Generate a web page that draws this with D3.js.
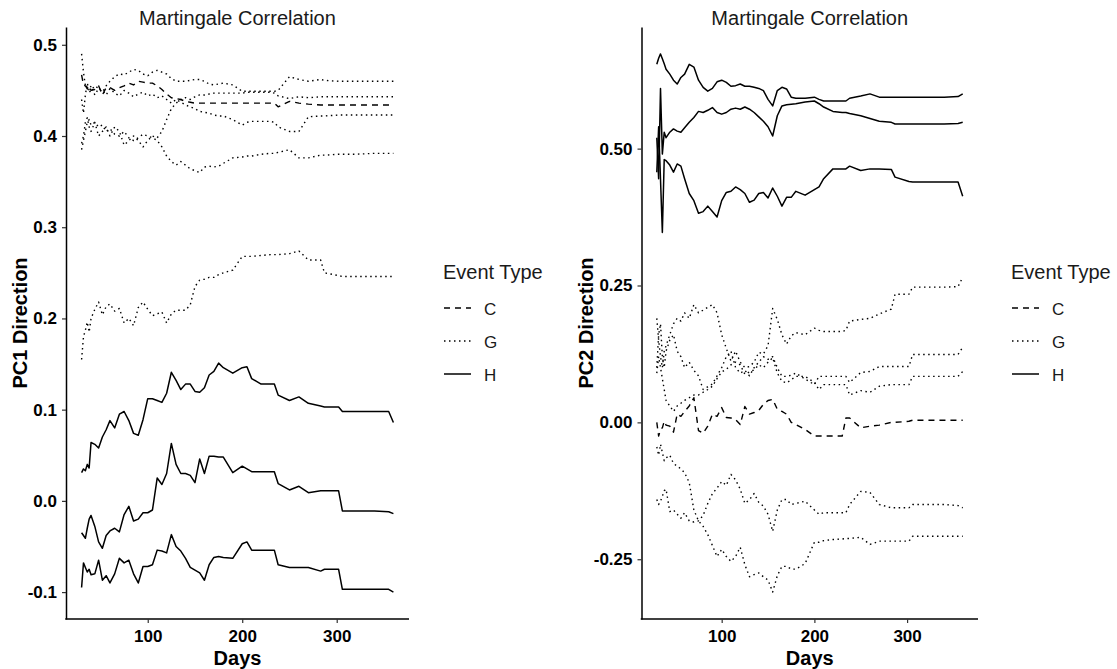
<!DOCTYPE html>
<html>
<head>
<meta charset="utf-8">
<script src="https://cdn.jsdelivr.net/npm/d3@7"></script>
<style>
    body { margin: 0; background: #fff; }
    svg { display: block; font-family: "Liberation Sans", Arial, sans-serif; }
</style>
</head>
<body>
<svg id="chart" width="1117" height="669"></svg>
<script>
// day grid shared by every series
const days = [30, 32, 34, 36, 38, 40, 44, 48, 52, 56,
    60, 65, 70, 75, 80, 85, 90, 95, 100, 105,
    110, 115, 120, 125, 130, 135, 140, 145, 150, 155,
    160, 165, 170, 175, 180, 190, 200, 205, 210, 220,
    230, 234, 238, 250, 260, 270, 283, 287, 302, 306,
    320, 340, 355, 360];

const eventTypes = ['C', 'G', 'H'];
const dayTicks = [100, 200, 300];
const pc1Ticks = [-0.1, 0, 0.1, 0.2, 0.3, 0.4, 0.5];
const pc2Ticks = [-0.25, 0, 0.25, 0.5];

// PC1
const pc1_C = [0.467, 0.456, 0.455, 0.452, 0.455, 0.450, 0.451, 0.455, 0.445, 0.453,
    0.453, 0.450, 0.453, 0.455, 0.458, 0.456, 0.460, 0.459, 0.458, 0.458,
    0.455, 0.451, 0.446, 0.442, 0.441, 0.440, 0.438, 0.437, 0.436, 0.436,
    0.436, 0.436, 0.436, 0.436, 0.436, 0.436, 0.436, 0.436, 0.436, 0.436,
    0.436, 0.436, 0.432, 0.438, 0.436, 0.435, 0.434, 0.434, 0.434, 0.434,
    0.434, 0.434, 0.434, 0.434];
const pc1_G1 = [0.490, 0.470, 0.455, 0.452, 0.448, 0.450, 0.455, 0.452, 0.448, 0.455,
    0.460, 0.465, 0.468, 0.467, 0.470, 0.473, 0.472, 0.468, 0.466, 0.470,
    0.472, 0.470, 0.468, 0.463, 0.460, 0.460, 0.460, 0.461, 0.462, 0.462,
    0.460, 0.457, 0.456, 0.457, 0.458, 0.456, 0.449, 0.449, 0.449, 0.449,
    0.449, 0.449, 0.450, 0.465, 0.462, 0.460, 0.462, 0.461, 0.460, 0.460,
    0.460, 0.460, 0.460, 0.460];
const pc1_G2 = [0.392, 0.400, 0.415, 0.420, 0.410, 0.405, 0.415, 0.400, 0.405, 0.410,
    0.400, 0.410, 0.405, 0.390, 0.395, 0.400, 0.395, 0.388, 0.395, 0.400,
    0.398, 0.405, 0.418, 0.430, 0.436, 0.440, 0.442, 0.440, 0.443, 0.445,
    0.445, 0.446, 0.447, 0.447, 0.447, 0.447, 0.447, 0.448, 0.448, 0.448,
    0.448, 0.447, 0.444, 0.441, 0.443, 0.442, 0.443, 0.443, 0.443, 0.443,
    0.443, 0.443, 0.443, 0.443];
const pc1_G3 = [0.440, 0.425, 0.445, 0.458, 0.450, 0.455, 0.445, 0.452, 0.450, 0.445,
    0.452, 0.447, 0.444, 0.450, 0.447, 0.443, 0.446, 0.448, 0.444, 0.446,
    0.442, 0.444, 0.440, 0.436, 0.440, 0.437, 0.434, 0.432, 0.430, 0.427,
    0.426, 0.425, 0.423, 0.422, 0.422, 0.418, 0.412, 0.415, 0.416, 0.416,
    0.416, 0.415, 0.410, 0.405, 0.405, 0.421, 0.422, 0.422, 0.423, 0.423,
    0.423, 0.423, 0.423, 0.423];
const pc1_G4 = [0.385, 0.395, 0.405, 0.415, 0.418, 0.412, 0.415, 0.410, 0.412, 0.405,
    0.408, 0.402, 0.400, 0.405, 0.398, 0.395, 0.398, 0.402, 0.400, 0.398,
    0.395, 0.388, 0.378, 0.372, 0.368, 0.372, 0.368, 0.364, 0.362, 0.360,
    0.366, 0.367, 0.366, 0.367, 0.370, 0.376, 0.377, 0.378, 0.378, 0.380,
    0.381, 0.381, 0.382, 0.385, 0.376, 0.376, 0.379, 0.379, 0.380, 0.380,
    0.380, 0.381, 0.381, 0.381];
const pc1_G5 = [0.155, 0.180, 0.187, 0.196, 0.185, 0.200, 0.210, 0.218, 0.204, 0.213,
    0.216, 0.208, 0.211, 0.195, 0.200, 0.192, 0.212, 0.218, 0.210, 0.203,
    0.205, 0.207, 0.195, 0.205, 0.209, 0.209, 0.209, 0.215, 0.235, 0.242,
    0.243, 0.245, 0.245, 0.248, 0.250, 0.253, 0.268, 0.268, 0.268, 0.269,
    0.270, 0.270, 0.270, 0.271, 0.274, 0.264, 0.264, 0.250, 0.247, 0.246,
    0.246, 0.246, 0.246, 0.246];
const pc1_H1 = [0.031, 0.035, 0.033, 0.040, 0.036, 0.064, 0.062, 0.058, 0.070, 0.078,
    0.088, 0.080, 0.095, 0.098, 0.088, 0.074, 0.072, 0.089, 0.112, 0.112,
    0.110, 0.108, 0.118, 0.141, 0.132, 0.122, 0.128, 0.128, 0.120, 0.119,
    0.124, 0.138, 0.142, 0.151, 0.146, 0.140, 0.146, 0.147, 0.134, 0.128,
    0.128, 0.128, 0.116, 0.110, 0.114, 0.107, 0.104, 0.103, 0.103, 0.098,
    0.098, 0.098, 0.098, 0.086];
const pc1_H2 = [-0.035, -0.038, -0.041, -0.030, -0.020, -0.016, -0.028, -0.045, -0.052, -0.038,
    -0.033, -0.030, -0.034, -0.015, -0.006, -0.022, -0.020, -0.013, -0.013, -0.010,
    0.025, 0.018, 0.030, 0.063, 0.040, 0.030, 0.030, 0.028, 0.020, 0.046,
    0.030, 0.049, 0.049, 0.048, 0.048, 0.031, 0.038, 0.035, 0.032, 0.032,
    0.032, 0.032, 0.019, 0.012, 0.016, 0.009, 0.011, 0.011, 0.011, -0.011,
    -0.011, -0.011, -0.012, -0.014];
const pc1_H3 = [-0.095, -0.068, -0.073, -0.078, -0.075, -0.081, -0.080, -0.065, -0.087, -0.082,
    -0.090, -0.080, -0.063, -0.068, -0.065, -0.080, -0.090, -0.072, -0.072, -0.070,
    -0.054, -0.055, -0.057, -0.037, -0.050, -0.055, -0.063, -0.073, -0.076, -0.079,
    -0.087, -0.070, -0.062, -0.061, -0.062, -0.063, -0.047, -0.045, -0.054, -0.054,
    -0.054, -0.054, -0.070, -0.073, -0.073, -0.073, -0.077, -0.075, -0.075, -0.097,
    -0.097, -0.097, -0.097, -0.100];

// PC2
const pc2_C = [0.000, -0.025, -0.013, -0.010, 0.002, -0.005, -0.007, -0.018, 0.015, 0.011,
    0.020, 0.030, 0.045, -0.015, -0.020, -0.007, 0.015, 0.011, 0.027, 0.009,
    0.008, 0.005, -0.004, 0.029, 0.015, 0.018, 0.022, 0.033, 0.040, 0.042,
    0.024, 0.020, 0.015, 0.000, -0.004, -0.013, -0.025, -0.025, -0.025, -0.025,
    -0.025, 0.008, 0.008, -0.010, -0.007, -0.005, 0.000, 0.000, 0.002, 0.004,
    0.004, 0.004, 0.004, 0.004];
const pc2_G1 = [0.190, 0.150, 0.120, 0.100, 0.130, 0.140, 0.160, 0.180, 0.190, 0.185,
    0.200, 0.190, 0.215, 0.200, 0.205, 0.210, 0.215, 0.200, 0.160, 0.135,
    0.112, 0.130, 0.110, 0.100, 0.102, 0.110, 0.128, 0.125, 0.140, 0.208,
    0.188, 0.160, 0.143, 0.158, 0.164, 0.160, 0.172, 0.168, 0.166, 0.166,
    0.166, 0.168, 0.185, 0.188, 0.190, 0.198, 0.207, 0.234, 0.234, 0.247,
    0.247, 0.247, 0.248, 0.265];
const pc2_G2 = [0.100, 0.160, 0.180, 0.120, 0.100, 0.130, 0.150, 0.160, 0.130, 0.120,
    0.100, 0.110, 0.095, 0.085, 0.060, 0.065, 0.070, 0.085, 0.100, 0.120,
    0.130, 0.100, 0.090, 0.095, 0.085, 0.100, 0.110, 0.120, 0.115, 0.120,
    0.100, 0.084, 0.084, 0.086, 0.090, 0.079, 0.069, 0.084, 0.084, 0.084,
    0.084, 0.084, 0.073, 0.091, 0.093, 0.102, 0.102, 0.102, 0.102, 0.124,
    0.124, 0.124, 0.124, 0.137];
const pc2_G3 = [0.090, 0.120, 0.100, 0.080, 0.060, 0.040, 0.030, 0.020, 0.030, 0.035,
    0.040, 0.045, 0.050, 0.050, 0.055, 0.060, 0.066, 0.080, 0.092, 0.097,
    0.105, 0.110, 0.105, 0.088, 0.092, 0.096, 0.105, 0.100, 0.110, 0.118,
    0.090, 0.075, 0.072, 0.078, 0.084, 0.084, 0.073, 0.060, 0.069, 0.069,
    0.069, 0.069, 0.050, 0.058, 0.055, 0.066, 0.069, 0.069, 0.069, 0.084,
    0.084, 0.084, 0.084, 0.093];
const pc2_G4 = [-0.141, -0.150, -0.144, -0.135, -0.125, -0.122, -0.163, -0.160, -0.168, -0.175,
    -0.165, -0.180, -0.182, -0.180, -0.170, -0.148, -0.130, -0.120, -0.108, -0.115,
    -0.095, -0.105, -0.122, -0.148, -0.141, -0.130, -0.146, -0.153, -0.168, -0.199,
    -0.160, -0.141, -0.141, -0.150, -0.148, -0.144, -0.160, -0.168, -0.165, -0.165,
    -0.165, -0.165, -0.150, -0.126, -0.128, -0.150, -0.156, -0.156, -0.156, -0.150,
    -0.150, -0.150, -0.152, -0.156];
const pc2_G5 = [-0.045, -0.060, -0.040, -0.055, -0.070, -0.065, -0.060, -0.075, -0.080, -0.085,
    -0.092, -0.110, -0.160, -0.180, -0.190, -0.205, -0.225, -0.245, -0.232, -0.245,
    -0.254, -0.245, -0.228, -0.260, -0.282, -0.278, -0.275, -0.282, -0.288, -0.310,
    -0.280, -0.263, -0.263, -0.268, -0.268, -0.258, -0.219, -0.219, -0.216, -0.214,
    -0.213, -0.212, -0.212, -0.210, -0.223, -0.217, -0.217, -0.217, -0.217, -0.208,
    -0.208, -0.208, -0.208, -0.208];
const pc2_H1 = [0.654, 0.665, 0.673, 0.664, 0.655, 0.645, 0.636, 0.625, 0.618, 0.630,
    0.636, 0.654, 0.649, 0.625, 0.612, 0.605, 0.610, 0.622, 0.625, 0.621,
    0.614, 0.615, 0.618, 0.614, 0.614, 0.612, 0.610, 0.606, 0.590, 0.578,
    0.606, 0.612, 0.609, 0.594, 0.592, 0.592, 0.594, 0.590, 0.587, 0.587,
    0.587, 0.587, 0.592, 0.596, 0.600, 0.594, 0.594, 0.594, 0.594, 0.594,
    0.594, 0.594, 0.595, 0.600];
const pc2_H2 = [0.520, 0.445, 0.610, 0.490, 0.530, 0.520, 0.530, 0.536, 0.532, 0.530,
    0.538, 0.548, 0.557, 0.568, 0.566, 0.570, 0.575, 0.566, 0.563, 0.566,
    0.572, 0.574, 0.572, 0.576, 0.572, 0.566, 0.558, 0.550, 0.540, 0.523,
    0.560, 0.578, 0.580, 0.581, 0.582, 0.585, 0.587, 0.582, 0.576, 0.568,
    0.566, 0.566, 0.564, 0.560, 0.555, 0.550, 0.548, 0.545, 0.545, 0.545,
    0.545, 0.545, 0.546, 0.548];
const pc2_H3 = [0.457, 0.540, 0.444, 0.347, 0.480, 0.478, 0.470, 0.457, 0.472, 0.468,
    0.445, 0.418, 0.405, 0.382, 0.385, 0.395, 0.385, 0.375, 0.405, 0.420,
    0.422, 0.430, 0.425, 0.418, 0.402, 0.406, 0.418, 0.420, 0.410, 0.428,
    0.413, 0.395, 0.411, 0.411, 0.422, 0.415, 0.425, 0.430, 0.445, 0.463,
    0.463, 0.463, 0.468, 0.460, 0.463, 0.463, 0.462, 0.448, 0.440, 0.439,
    0.439, 0.439, 0.439, 0.413];

const pc1Series = [
    { type: 'C', values: pc1_C },
    { type: 'G', values: pc1_G1 }, { type: 'G', values: pc1_G2 }, { type: 'G', values: pc1_G3 },
    { type: 'G', values: pc1_G4 }, { type: 'G', values: pc1_G5 },
    { type: 'H', values: pc1_H1 }, { type: 'H', values: pc1_H2 }, { type: 'H', values: pc1_H3 }
];
const pc2Series = [
    { type: 'C', values: pc2_C },
    { type: 'G', values: pc2_G1 }, { type: 'G', values: pc2_G2 }, { type: 'G', values: pc2_G3 },
    { type: 'G', values: pc2_G4 }, { type: 'G', values: pc2_G5 },
    { type: 'H', values: pc2_H1 }, { type: 'H', values: pc2_H2 }, { type: 'H', values: pc2_H3 }
];

const dashes = { C: '6,5', G: '1.5,3.5', H: null };
const widths = { C: 1.4, G: 1.4, H: 1.5 };
const font = '"Liberation Sans", Arial, sans-serif';
const locale = d3.formatLocale({ decimal: '.', thousands: ',', grouping: [3], currency: ['', ''], minus: '-' });

const panels = [
    { series: pc1Series, ticks: pc1Ticks, fmt: '.1f', yTitle: 'PC1 Direction', left: 66, right: 409, legendX: 444 },
    { series: pc2Series, ticks: pc2Ticks, fmt: '.2f', yTitle: 'PC2 Direction', left: 641.5, right: 978, legendX: 1012 }
];
const plotTop = 27;
const plotBottom = 619;

// ggplot style 5% padding
function expand([lo, hi]) {
    const pad = (hi - lo) * 0.05;
    return [lo - pad, hi + pad];
}

const svg = d3.select('#chart');

panels.forEach(p => {
    const x = d3.scaleLinear()
        .domain(expand(d3.extent(days)))
        .range([p.left, p.right]);
    const y = d3.scaleLinear()
        .domain(expand(d3.extent(p.series.flatMap(s => s.values))))
        .range([plotBottom, plotTop]);

    const line = d3.line()
        .x((v, i) => x(days[i]))
        .y(v => y(v));

    const g = svg.append('g');

    g.selectAll('path.series')
        .data(p.series)
        .join('path')
        .attr('class', 'series')
        .attr('d', s => line(s.values))
        .attr('fill', 'none')
        .attr('stroke', '#000')
        .attr('stroke-width', s => widths[s.type])
        .attr('stroke-dasharray', s => dashes[s.type])
        .attr('stroke-linejoin', 'round');

    const yAxis = g.append('g')
        .attr('transform', `translate(${p.left},0)`)
        .call(d3.axisLeft(y).tickValues(p.ticks).tickFormat(locale.format(p.fmt))
            .tickSize(4).tickSizeOuter(0).tickPadding(5));
    const xAxis = g.append('g')
        .attr('transform', `translate(0,${plotBottom})`)
        .call(d3.axisBottom(x).tickValues(dayTicks).tickSize(4).tickSizeOuter(0).tickPadding(7));

    [yAxis, xAxis].forEach(a => {
        a.attr('font-family', font).attr('font-size', 17);
        a.select('.domain').attr('stroke', '#000').attr('stroke-width', 1.5);
        a.selectAll('.tick line').attr('stroke', '#333').attr('stroke-width', 1.2);
        a.selectAll('.tick text').attr('fill', '#000').attr('font-weight', 'bold');
    });
    // stretch x domain line to meet y axis
    xAxis.select('.domain').attr('d', `M${p.left - 0.75},0H${p.right}`);

    const labelLeft = p.left + d3.min(yAxis.selectAll('.tick text').nodes(), n => n.getBBox().x);
    const midX = (p.left + p.right) / 2;

    g.append('text')
        .attr('transform', `translate(${labelLeft - 1},${(plotTop + plotBottom) / 2}) rotate(-90)`)
        .attr('text-anchor', 'middle')
        .attr('font-size', 20)
        .attr('font-weight', 'bold')
        .text(p.yTitle);

    g.append('text')
        .attr('x', midX)
        .attr('y', 665)
        .attr('text-anchor', 'middle')
        .attr('font-size', 20)
        .attr('font-weight', 'bold')
        .text('Days');

    g.append('text')
        .attr('x', midX)
        .attr('y', 25)
        .attr('text-anchor', 'middle')
        .attr('font-size', 20)
        .attr('fill', '#1a1a1a')
        .text('Martingale Correlation');

    const legend = g.append('g').attr('transform', `translate(${p.legendX},0)`);
    legend.append('text')
        .attr('x', -1)
        .attr('y', 279)
        .attr('font-size', 20)
        .attr('fill', '#1a1a1a')
        .text('Event Type');

    eventTypes.forEach((t, i) => {
        const ky = 308 + i * 33;
        legend.append('line')
            .attr('x1', 0).attr('x2', 27)
            .attr('y1', ky).attr('y2', ky)
            .attr('stroke', '#000')
            .attr('stroke-width', widths[t])
            .attr('stroke-dasharray', dashes[t]);
        legend.append('text')
            .attr('x', 40)
            .attr('y', ky + 6.5)
            .attr('font-size', 17)
            .attr('fill', '#1a1a1a')
            .text(t);
    });
});
</script>
</body>
</html>
